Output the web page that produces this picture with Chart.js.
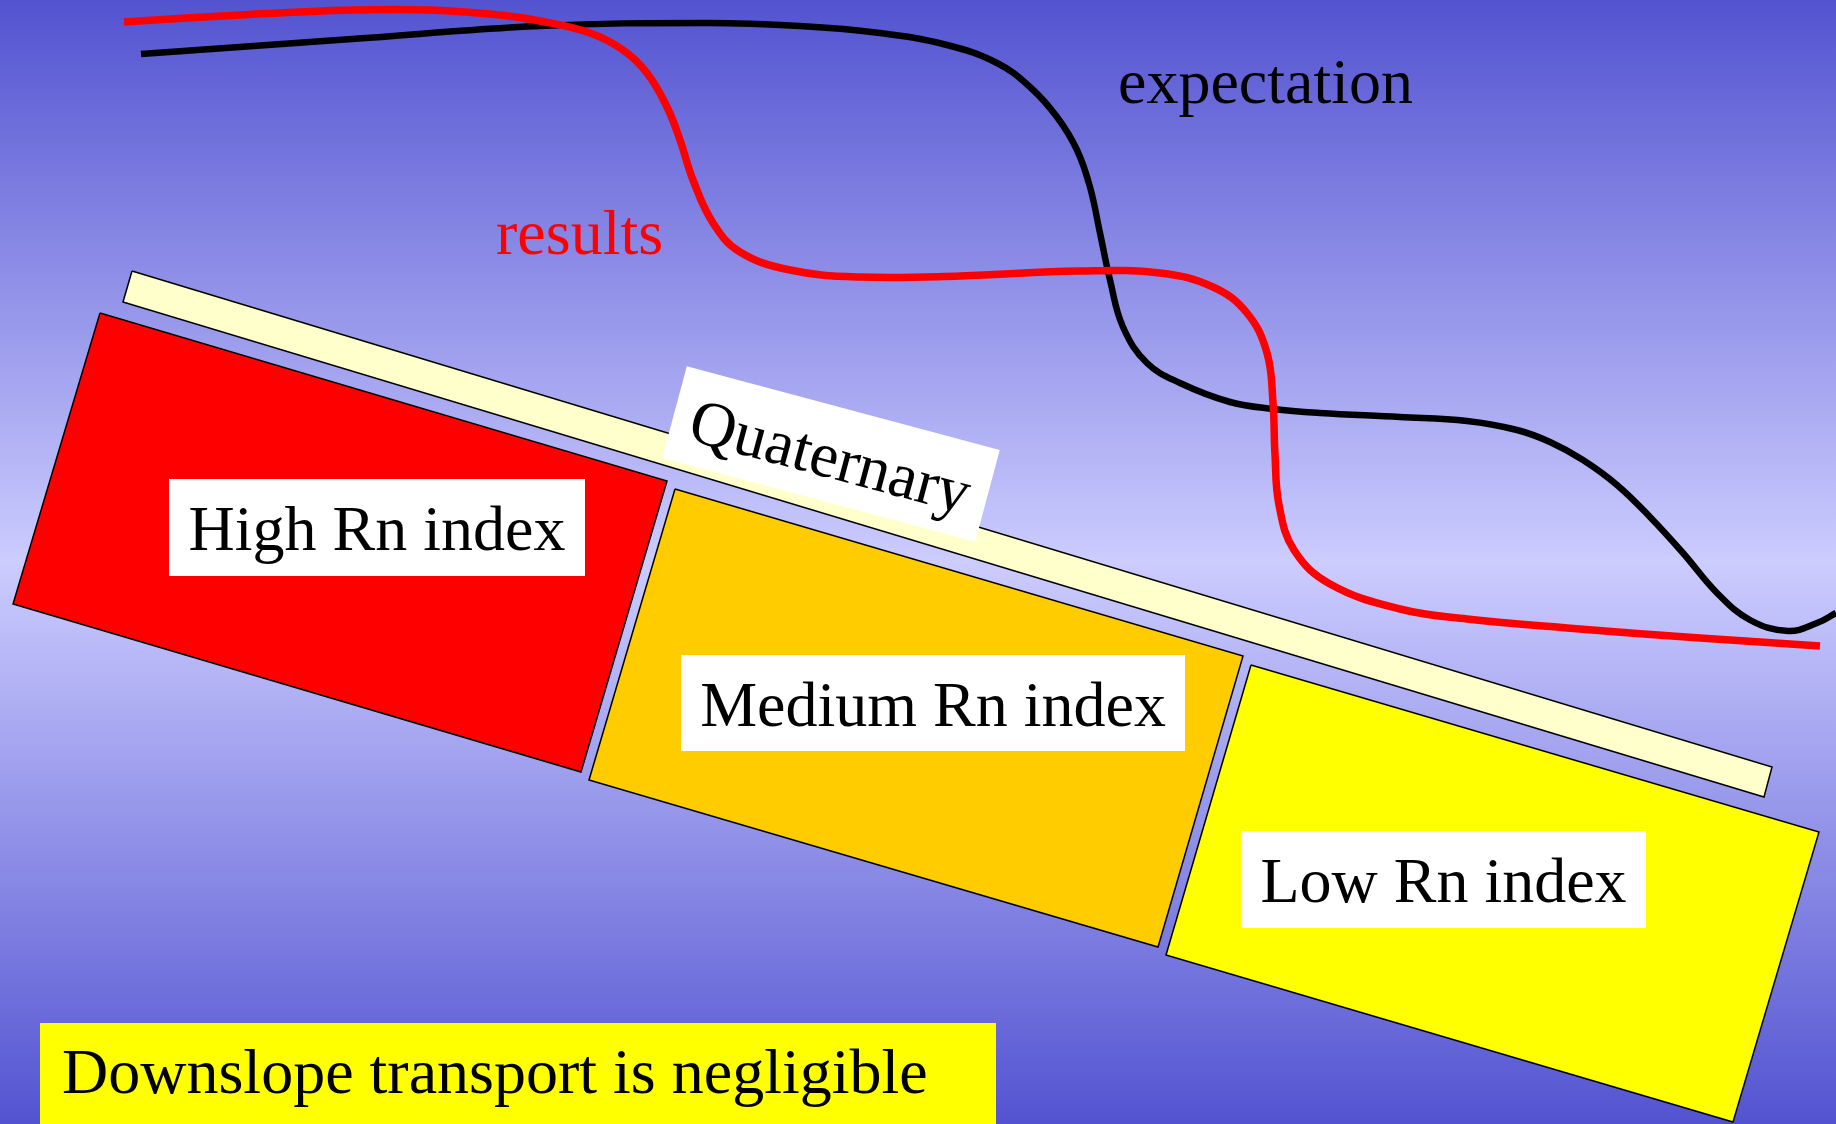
<!DOCTYPE html>
<html>
<head>
<meta charset="utf-8">
<script src="https://cdn.jsdelivr.net/npm/chart.js@4/dist/chart.umd.min.js"></script>
<style>
  html, body { margin: 0; padding: 0; overflow: hidden; background: #ccccff; }
  #wrap { position: relative; width: 1836px; height: 1124px; }
</style>
</head>
<body>
<div id="wrap"><canvas id="c"></canvas></div>
<script>
// ---- data (diagram units: x along profile, y = depth, 1836 x 1124 frame) ----
const resultsX = [124,240,352,430,500,540,590,623,647,667,680,693,713,740,790,860,960,1079,1160,1213,1247,1267,1273,1275,1279,1294,1330,1400,1467,1567,1700,1820];
const resultsY = [22,15,10,10,15,21,33,50,73,107,140,180,223,252,270,277,276,271,273,287,313,353,403,455,505,550,584,609,619,628,638,646];

const expectationX = [141,352,540,707,800,880,947,997,1030,1057,1077,1090,1100,1110,1123,1147,1180,1230,1273,1320,1400,1467,1517,1550,1583,1617,1650,1683,1717,1750,1788,1817,1836];
const expectationY = [54,39,26,23,26,33,45,63,87,117,150,187,233,280,327,363,383,402,409,413,417,421,430,442,460,485,517,553,593,620,631,623,613];

const quaternaryX = [132,1772,1764,123];
const quaternaryY = [271,767,797,302];
const highX = [100,667,581,13];
const highY = [313,481,772,604];
const mediumX = [675,1243,1158,589];
const mediumY = [489,656,947,780];
const lowX = [1251,1819,1733,1166];
const lowY = [665,832,1122,955];

const boxLabels = ['High Rn index','Medium Rn index','Low Rn index'];
const boxX0 = [169,681,1241];
const boxY0 = [479,655,831];
const boxX1 = [585,1185,1646];
const boxY1 = [576,751,928];

const curveLabels = ['results','expectation'];
const curveLabelX = [496,1118];
const curveLabelY = [254,103];

const toPts = (xs, ys) => xs.map((x, i) => ({x: x, y: ys[i]}));
const closed = (xs, ys) => { const p = toPts(xs, ys); p.push(p[0]); return p; };

const FONT = '64px "Liberation Serif", "Times New Roman", serif';

const bgPlugin = {
  id: 'bg',
  beforeDraw(chart) {
    const {ctx, width, height} = chart;
    const g = ctx.createLinearGradient(0, 0, 0, height);
    g.addColorStop(0, '#5353d1');
    g.addColorStop(0.5, '#ccccff');
    g.addColorStop(1, '#5353d1');
    ctx.save();
    ctx.fillStyle = g;
    ctx.fillRect(0, 0, width, height);
    ctx.restore();
  }
};

const labelPlugin = {
  id: 'labels',
  afterDatasetsDraw(chart) {
    const ctx = chart.ctx;
    const sx = chart.scales.x, sy = chart.scales.y;
    const px = v => sx.getPixelForValue(v);
    const py = v => sy.getPixelForValue(v);
    ctx.save();
    ctx.font = FONT;
    ctx.textBaseline = 'alphabetic';
    // white label boxes on the blocks
    boxLabels.forEach((t, i) => {
      const x0 = px(boxX0[i]), y0 = py(boxY0[i]), x1 = px(boxX1[i]), y1 = py(boxY1[i]);
      ctx.fillStyle = '#ffffff';
      ctx.fillRect(x0, y0, x1 - x0, y1 - y0);
      ctx.fillStyle = '#000000';
      ctx.textAlign = 'center';
      ctx.fillText(t, (x0 + x1) / 2, y0 + 71);
    });
    // rotated Quaternary label
    ctx.save();
    ctx.translate(px(831), py(454));
    ctx.rotate(15 * Math.PI / 180);
    ctx.fillStyle = '#ffffff';
    ctx.fillRect(-162, -47.5, 324, 95);
    ctx.fillStyle = '#000000';
    ctx.textAlign = 'center';
    ctx.fillText('Quaternary', 0, 23.5);
    ctx.restore();
    // bottom note
    const bx0 = px(40), by0 = py(1023), bx1 = px(996), by1 = py(1124);
    ctx.fillStyle = '#ffff00';
    ctx.fillRect(bx0, by0, bx1 - bx0, by1 - by0);
    ctx.fillStyle = '#000000';
    ctx.textAlign = 'left';
    ctx.fillText('Downslope transport is negligible', px(62), py(1093));
    // curve labels
    ctx.textAlign = 'left';
    ctx.fillStyle = '#ff0000';
    ctx.fillText(curveLabels[0], px(curveLabelX[0]), py(curveLabelY[0]));
    ctx.fillStyle = '#000000';
    ctx.fillText(curveLabels[1], px(curveLabelX[1]), py(curveLabelY[1]));
    ctx.restore();
  }
};

const poly = (xs, ys, color) => ({
  data: closed(xs, ys),
  showLine: true,
  fill: 'shape',
  backgroundColor: color,
  borderColor: '#000000',
  borderWidth: 1.5,
  tension: 0,
  pointRadius: 0
});

new Chart(document.getElementById('c'), {
  type: 'scatter',
  data: {
    datasets: [
      { label: 'results', data: toPts(resultsX, resultsY), showLine: true, borderColor: '#ff0000', borderWidth: 7.5, tension: 0.4, pointRadius: 0, fill: false, borderCapStyle: 'butt' },
      { label: 'expectation', data: toPts(expectationX, expectationY), showLine: true, borderColor: '#000000', borderWidth: 6.5, tension: 0.4, pointRadius: 0, fill: false, borderCapStyle: 'butt' },
      poly(quaternaryX, quaternaryY, '#ffffcc'),
      poly(highX, highY, '#ff0000'),
      poly(mediumX, mediumY, '#ffcc00'),
      poly(lowX, lowY, '#ffff00')
    ]
  },
  options: {
    responsive: true,
    maintainAspectRatio: false,
    animation: false,
    events: [],
    layout: { padding: 0 },
    plugins: { legend: { display: false }, tooltip: { enabled: false } },
    scales: {
      x: { type: 'linear', min: 0, max: 1836, display: false },
      y: { type: 'linear', min: 0, max: 1124, reverse: true, display: false }
    }
  },
  plugins: [bgPlugin, labelPlugin]
});
</script>
</body>
</html>
